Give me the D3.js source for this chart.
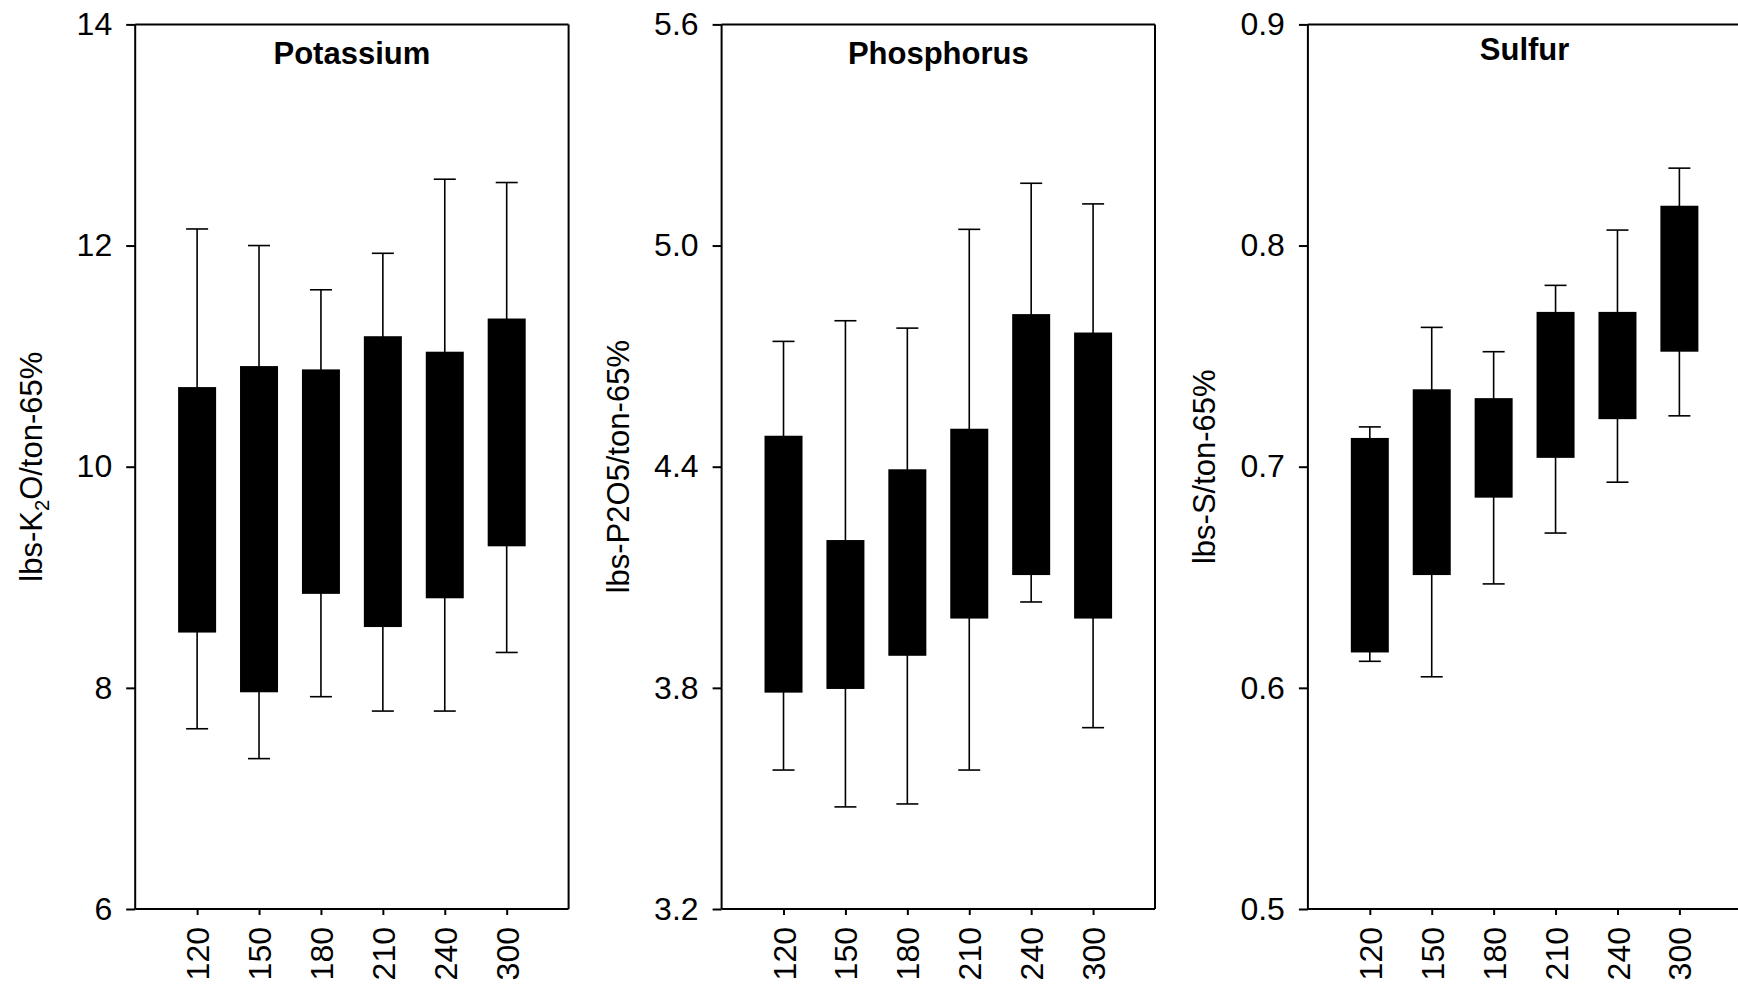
<!DOCTYPE html>
<html>
<head>
<meta charset="utf-8">
<script src="https://cdn.jsdelivr.net/npm/d3@7"></script>
<style>
  html, body { margin: 0; padding: 0; background: #fff; }
  svg { display: block; font-family: "Liberation Sans", Arial, sans-serif; }
</style>
</head>
<body>
<svg id="chart" width="1738" height="990"></svg>
<script>
// ---------- data ----------
const categories = ["120", "150", "180", "210", "240", "300"];

const potassiumMin = [7.63, 7.36, 7.92, 7.79, 7.79, 8.32];
const potassiumQ1  = [8.50, 7.96, 8.85, 8.55, 8.81, 9.28];
const potassiumQ3  = [10.72, 10.91, 10.88, 11.18, 11.04, 11.34];
const potassiumMax = [12.15, 12.00, 11.60, 11.93, 12.60, 12.57];
const potassiumTicks = [6, 8, 10, 12, 14];

const phosphorusMin = [3.577, 3.477, 3.485, 3.577, 4.033, 3.692];
const phosphorusQ1  = [3.787, 3.797, 3.887, 3.988, 4.106, 3.988];
const phosphorusQ3  = [4.484, 4.201, 4.393, 4.503, 4.814, 4.764];
const phosphorusMax = [4.740, 4.796, 4.776, 5.044, 5.169, 5.113];
const phosphorusTicks = [3.2, 3.8, 4.4, 5.0, 5.6];

const sulfurMin = [0.612, 0.605, 0.647, 0.670, 0.693, 0.723];
const sulfurQ1  = [0.616, 0.651, 0.686, 0.704, 0.7215, 0.752];
const sulfurQ3  = [0.713, 0.735, 0.731, 0.770, 0.770, 0.818];
const sulfurMax = [0.718, 0.763, 0.752, 0.782, 0.807, 0.835];
const sulfurTicks = [0.5, 0.6, 0.7, 0.8, 0.9];

const panelTitles = ["Potassium", "Phosphorus", "Sulfur"];

// ---------- layout ----------
const svg = d3.select("#chart");
const panelLefts = [135.2, 721.6, 1307.9];
const panelW = 433.4;
const plotTop = 24.4, plotBottom = 909;
const fsTick = 32, fsLabel = 31, fsTitle = 31;

const panels = [
  { title: panelTitles[0], min: potassiumMin, q1: potassiumQ1, q3: potassiumQ3, max: potassiumMax,
    ticks: potassiumTicks, fmt: d3.format("d"), label: "K" },
  { title: panelTitles[1], min: phosphorusMin, q1: phosphorusQ1, q3: phosphorusQ3, max: phosphorusMax,
    ticks: phosphorusTicks, fmt: d3.format(".1f"), label: "P" },
  { title: panelTitles[2], min: sulfurMin, q1: sulfurQ1, q3: sulfurQ3, max: sulfurMax,
    ticks: sulfurTicks, fmt: d3.format(".1f"), label: "S" }
];

panels.forEach((p, pi) => {
  const left = panelLefts[pi];
  const right = left + panelW;
  const g = svg.append("g");

  const x = d3.scaleLinear().domain([0, categories.length + 1]).range([left, right]);
  const y = d3.scaleLinear().domain([p.ticks[0], p.ticks[p.ticks.length - 1]]).range([plotBottom, plotTop]);
  const barW = 38, capW = 22;

  // frame (top + right)
  g.append("line").attr("x1", left).attr("x2", right).attr("y1", plotTop).attr("y2", plotTop)
    .attr("stroke", "#000").attr("stroke-width", 2);
  g.append("line").attr("x1", right).attr("x2", right).attr("y1", plotTop).attr("y2", plotBottom)
    .attr("stroke", "#000").attr("stroke-width", 2);

  // y axis
  const yAxis = d3.axisLeft(y).tickValues(p.ticks).tickFormat(p.fmt).tickSize(9).tickPadding(14);
  const ya = g.append("g").attr("transform", `translate(${left},0)`).call(yAxis);
  ya.select(".domain").attr("stroke-width", 2).attr("d", `M0,${plotTop}V${plotBottom}`);
  ya.selectAll(".tick line").attr("stroke-width", 2);
  ya.selectAll(".tick text").attr("font-size", fsTick).attr("fill", "#000")
    .attr("font-family", '"Liberation Sans", Arial, sans-serif');

  // x axis
  const xAxis = d3.axisBottom(x).tickValues(d3.range(1, categories.length + 1))
    .tickFormat(i => categories[i - 1]).tickSize(6).tickPadding(0);
  const xa = g.append("g").attr("transform", `translate(0,${plotBottom})`).call(xAxis);
  xa.select(".domain").attr("stroke-width", 2).attr("d", `M${left},0H${right}`);
  xa.selectAll(".tick line").attr("stroke-width", 2);
  xa.selectAll(".tick text")
    .attr("font-size", fsTick).attr("fill", "#000")
    .attr("font-family", '"Liberation Sans", Arial, sans-serif')
    .attr("transform", "translate(0,18) rotate(-90)")
    .attr("x", 0).attr("y", 0).attr("dy", "0.36em")
    .attr("text-anchor", "end");

  // whiskers
  const idx = d3.range(categories.length);
  g.selectAll(".whisker").data(idx).join("line")
    .attr("x1", i => x(i + 1)).attr("x2", i => x(i + 1))
    .attr("y1", i => y(p.min[i])).attr("y2", i => y(p.max[i]))
    .attr("stroke", "#000").attr("stroke-width", 1.6);
  g.selectAll(".capTop").data(idx).join("line")
    .attr("x1", i => x(i + 1) - capW / 2).attr("x2", i => x(i + 1) + capW / 2)
    .attr("y1", i => y(p.max[i])).attr("y2", i => y(p.max[i]))
    .attr("stroke", "#000").attr("stroke-width", 1.6);
  g.selectAll(".capBot").data(idx).join("line")
    .attr("x1", i => x(i + 1) - capW / 2).attr("x2", i => x(i + 1) + capW / 2)
    .attr("y1", i => y(p.min[i])).attr("y2", i => y(p.min[i]))
    .attr("stroke", "#000").attr("stroke-width", 1.6);

  // boxes
  g.selectAll(".box").data(idx).join("rect")
    .attr("x", i => x(i + 1) - barW / 2).attr("width", barW)
    .attr("y", i => y(p.q3[i])).attr("height", i => y(p.q1[i]) - y(p.q3[i]))
    .attr("fill", "#000");

  // title
  g.append("text")
    .attr("x", (left + right) / 2).attr("y", pi === 2 ? 60 : 64)
    .attr("text-anchor", "middle").attr("font-weight", "bold").attr("font-size", fsTitle)
    .attr("fill", "#000").text(p.title);

  // y label
  const lab = g.append("text")
    .attr("transform", `translate(${left - 93},${(plotTop + plotBottom) / 2}) rotate(-90)`)
    .attr("text-anchor", "middle").attr("font-size", fsLabel).attr("fill", "#000");
  if (p.label === "K") {
    lab.append("tspan").text("lbs-K");
    lab.append("tspan").attr("font-size", fsLabel * 0.65).attr("dy", 7).text("2");
    lab.append("tspan").attr("dy", -7).text("O/ton-65%");
  } else if (p.label === "P") {
    lab.text("lbs-P2O5/ton-65%");
  } else {
    lab.text("lbs-S/ton-65%");
  }
});
</script>
</body>
</html>
